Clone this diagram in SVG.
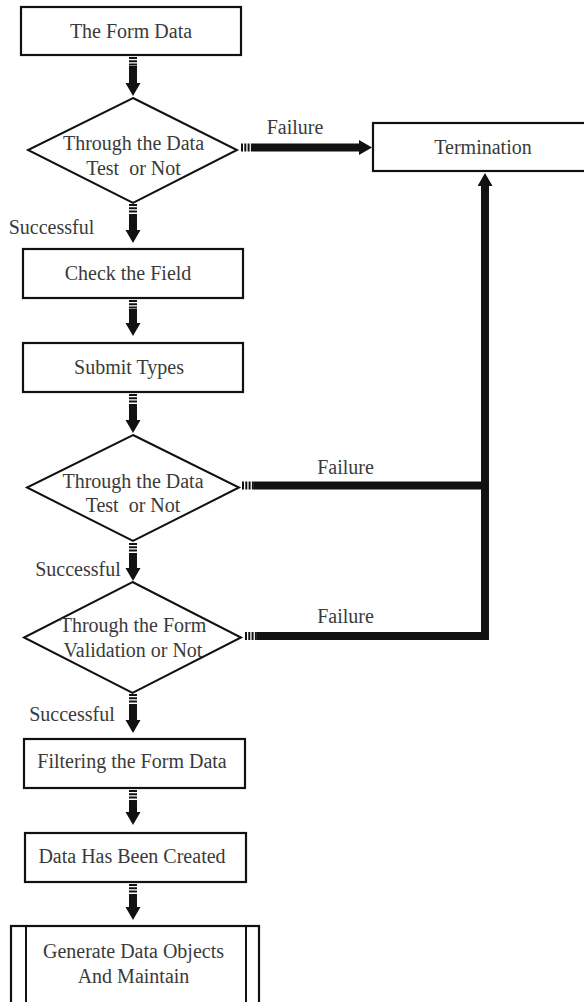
<svg xmlns="http://www.w3.org/2000/svg" width="584" height="1002" viewBox="0 0 584 1002">
<defs>
<style>
.box{fill:#fff;stroke:#111;stroke-width:2.2}
.dia{fill:#fff;stroke:#111;stroke-width:2}
.t{font-family:"Liberation Serif","Times New Roman",serif;font-size:20px;fill:#3a3a3a;text-anchor:middle;white-space:pre}
.stripe{stroke:#111;stroke-width:8;stroke-dasharray:2 1.3;fill:none}
.shaft{stroke:#111;stroke-width:8;fill:none;marker-end:url(#head)}
.bar{stroke:#111;stroke-width:8;fill:none}
</style>
<marker id="head" markerUnits="userSpaceOnUse" markerWidth="14" markerHeight="16" refX="0" refY="7.5" orient="auto">
<path d="M0,0 L13,7.5 L0,15 z" fill="#111"/>
</marker>
</defs>
<g id="connectors">
<line class="stripe" x1="133" y1="57" x2="133" y2="66"/><line class="shaft" x1="133" y1="66" x2="133" y2="83"/>
<line class="stripe" x1="133" y1="204" x2="133" y2="214"/><line class="shaft" x1="133" y1="214" x2="133" y2="230"/>
<line class="stripe" x1="133" y1="300" x2="133" y2="309"/><line class="shaft" x1="133" y1="309" x2="133" y2="323"/>
<line class="stripe" x1="133" y1="394" x2="133" y2="404"/><line class="shaft" x1="133" y1="404" x2="133" y2="420"/>
<line class="stripe" x1="133" y1="543" x2="133" y2="553"/><line class="shaft" x1="133" y1="553" x2="133" y2="568"/>
<line class="stripe" x1="133" y1="694" x2="133" y2="704"/><line class="shaft" x1="133" y1="704" x2="133" y2="720"/>
<line class="stripe" x1="133" y1="790" x2="133" y2="800"/><line class="shaft" x1="133" y1="800" x2="133" y2="812"/>
<line class="stripe" x1="133" y1="884" x2="133" y2="894"/><line class="shaft" x1="133" y1="894" x2="133" y2="907"/>
<line class="stripe" x1="241" y1="147.5" x2="251" y2="147.5"/><line class="shaft" x1="251" y1="147.5" x2="359" y2="147.5"/>
<line class="stripe" x1="242" y1="485.5" x2="254" y2="485.5"/><line class="bar" x1="254" y1="485.5" x2="489" y2="485.5"/>
<line class="stripe" x1="245" y1="636" x2="257" y2="636"/><line class="bar" x1="257" y1="636" x2="489" y2="636"/>
<line class="shaft" x1="485" y1="640" x2="485" y2="186"/>
<text class="t" x="295" y="134">Failure</text>
<text class="t" x="345.5" y="474">Failure</text>
<text class="t" x="345.5" y="623">Failure</text>
<text class="t" x="51.5" y="234">Successful</text>
<text class="t" x="78" y="576">Successful</text>
<text class="t" x="72" y="721">Successful</text>
</g>
<g id="form-data"><rect class="box" x="21" y="7" width="220" height="48"/><text class="t" x="131" y="38">The Form Data</text></g>
<g id="test1"><polygon class="dia" points="133,98 237,150 133,203 28,150"/><text class="t" x="133.5" y="150">Through the Data</text><text class="t" x="133.5" y="175">Test  or Not</text></g>
<g id="termination"><rect class="box" x="373" y="123" width="230" height="48"/><text class="t" x="483" y="154">Termination</text></g>
<g id="check-field"><rect class="box" x="23" y="249" width="220" height="49"/><text class="t" x="128" y="280">Check the Field</text></g>
<g id="submit-types"><rect class="box" x="23" y="343" width="220" height="49"/><text class="t" x="129" y="374">Submit Types</text></g>
<g id="test2"><polygon class="dia" points="133,435 239,487.5 133,541 27,487.5"/><text class="t" x="133" y="488">Through the Data</text><text class="t" x="133" y="512">Test  or Not</text></g>
<g id="validation"><polygon class="dia" points="132.5,582 241,637.5 132.5,693 24,637.5"/><text class="t" x="133" y="632">Through the Form</text><text class="t" x="133" y="657">Validation or Not</text></g>
<g id="filtering"><rect class="box" x="24" y="739" width="221" height="49"/><text class="t" x="132" y="768">Filtering the Form Data</text></g>
<g id="created"><rect class="box" x="25" y="833" width="221" height="49"/><text class="t" x="132" y="863">Data Has Been Created</text></g>
<g id="generate"><rect class="box" x="11" y="926" width="248" height="90"/><line x1="26" y1="926" x2="26" y2="1010" stroke="#111" stroke-width="2"/><line x1="246" y1="926" x2="246" y2="1010" stroke="#111" stroke-width="2"/><text class="t" x="133.5" y="958">Generate Data Objects</text><text class="t" x="133.5" y="983">And Maintain</text></g>
</svg>
